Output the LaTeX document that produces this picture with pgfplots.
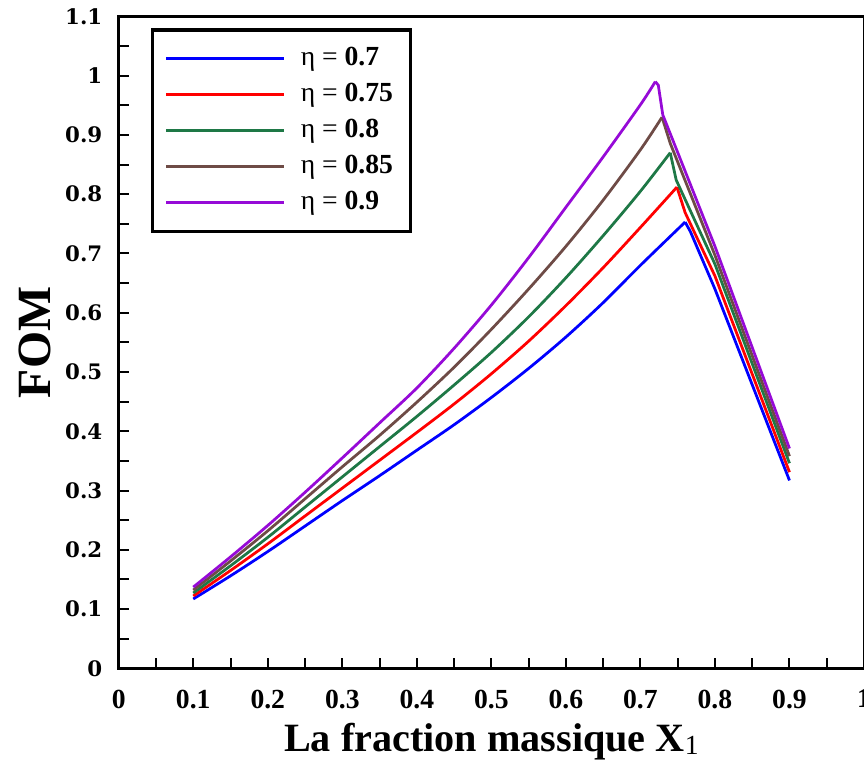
\documentclass[border={4pt 0pt 0pt 0pt}]{standalone}
\usepackage{fontspec}
\setmainfont{Liberation Serif}
\newfontfamily\dvs{DejaVu Serif}
\usepackage{pgfplots}
\pgfplotsset{compat=1.18}

\definecolor{cblue}{RGB}{0,0,255}
\definecolor{cred}{RGB}{255,0,0}
\definecolor{cgreen}{RGB}{30,120,70}
\definecolor{cbrown}{RGB}{110,75,70}
\definecolor{cpurple}{RGB}{150,10,215}

\begin{document}
\begin{tikzpicture}[trim axis right]
\begin{axis}[
  scale only axis,
  width=296.8pt, height=259.6pt,
  xmin=0, xmax=1, ymin=0, ymax=1.1,
  xtick={0,0.1,0.2,0.3,0.4,0.5,0.6,0.7,0.8,0.9,1},
  xticklabels={0,0.1,0.2,0.3,0.4,0.5,0.6,0.7,0.8,0.9,1},
  ytick={0,0.1,0.2,0.3,0.4,0.5,0.6,0.7,0.8,0.9,1,1.1},
  yticklabels={0,0.1,0.2,0.3,0.4,0.5,0.6,0.7,0.8,0.9,1,1.1},
  minor xtick={0.05,0.15,0.25,0.35,0.45,0.55,0.65,0.75,0.85,0.95},
  minor ytick={0.05,0.15,0.25,0.35,0.45,0.55,0.65,0.75,0.85,0.95,1.05},
  tick align=inside,
  xtick pos=left, ytick pos=left,
  major tick length=4pt, minor tick length=4pt,
  every tick/.style={black, line width=0.8pt},
  axis line style={line width=1pt},
  xticklabel style={font=\fontsize{11}{12}\selectfont\bfseries, yshift=-5pt},
  yticklabel style={font=\dvs\fontsize{8.5}{10}\selectfont\bfseries, xshift=-3pt},
  xlabel={La fraction massique X\raisebox{-0.15ex}{\mdseries\fontsize{11}{11}\selectfont 1}},
  ylabel={FOM},
  xlabel style={font=\fontsize{16}{19}\selectfont\bfseries, yshift=1pt},
  ylabel style={font=\fontsize{19}{22}\selectfont\bfseries, yshift=-1pt},
  legend cell align=left,
  legend image code/.code={\draw[#1] (0pt,0pt) -- (47pt,0pt);},
  legend style={at={(0.0431,0.9815)}, anchor=north west, draw=black,
    line width=1.2pt, font=\fontsize{11}{13}\selectfont,
    inner xsep=5pt, inner ysep=5pt, row sep=1.5pt,
    /tikz/every odd column/.append style={column sep=4pt}},
]
% eta = 0.7
\addplot[color=cblue, line width=1.1pt, smooth, tension=0.5] coordinates {
  (0.10,0.117) (0.15,0.156) (0.20,0.197) (0.25,0.240) (0.30,0.283)
  (0.35,0.325) (0.40,0.368) (0.45,0.411) (0.50,0.457) (0.55,0.506)
  (0.60,0.559) (0.65,0.617) (0.70,0.680) (0.76,0.753)
};
\addlegendentry{η = \textbf{0.7}}
\addplot[color=cblue, line width=1.1pt, forget plot] coordinates {
  (0.76,0.753) (0.767,0.737) (0.80,0.640) (0.90,0.317)
};
% eta = 0.75
\addplot[color=cred, line width=1.1pt, smooth, tension=0.5] coordinates {
  (0.10,0.122) (0.15,0.165) (0.20,0.210) (0.25,0.257) (0.30,0.304)
  (0.35,0.351) (0.40,0.398) (0.45,0.446) (0.50,0.497) (0.55,0.552)
  (0.60,0.612) (0.65,0.676) (0.70,0.744) (0.749,0.812)
};
\addlegendentry{η = \textbf{0.75}}
\addplot[color=cred, line width=1.1pt, forget plot] coordinates {
  (0.749,0.812) (0.760,0.769) (0.80,0.662) (0.90,0.331)
};
% eta = 0.8
\addplot[color=cgreen, line width=1.1pt, smooth, tension=0.5] coordinates {
  (0.10,0.127) (0.15,0.173) (0.20,0.221) (0.25,0.272) (0.30,0.323)
  (0.35,0.374) (0.40,0.425) (0.45,0.478) (0.50,0.533) (0.55,0.593)
  (0.60,0.659) (0.65,0.730) (0.70,0.805) (0.740,0.870)
};
\addlegendentry{η = \textbf{0.8}}
\addplot[color=cgreen, line width=1.1pt, forget plot] coordinates {
  (0.740,0.870) (0.748,0.824) (0.80,0.682) (0.90,0.346)
};
% eta = 0.85
\addplot[color=cbrown, line width=1.1pt, smooth, tension=0.5] coordinates {
  (0.10,0.132) (0.15,0.181) (0.20,0.232) (0.25,0.286) (0.30,0.340)
  (0.35,0.393) (0.40,0.449) (0.45,0.508) (0.50,0.572) (0.55,0.640)
  (0.60,0.712) (0.65,0.790) (0.70,0.875) (0.729,0.930)
};
\addlegendentry{η = \textbf{0.85}}
\addplot[color=cbrown, line width=1.1pt, forget plot] coordinates {
  (0.729,0.930) (0.740,0.886) (0.80,0.697) (0.90,0.358)
};
% eta = 0.9
\addplot[color=cpurple, line width=1.1pt, smooth, tension=0.5] coordinates {
  (0.10,0.137) (0.15,0.188) (0.20,0.241) (0.25,0.297) (0.30,0.355)
  (0.35,0.414) (0.40,0.473) (0.45,0.540) (0.50,0.613) (0.55,0.693)
  (0.60,0.778) (0.65,0.863) (0.70,0.951) (0.720,0.990)
};
\addlegendentry{η = \textbf{0.9}}
\addplot[color=cpurple, line width=1.1pt, forget plot] coordinates {
  (0.720,0.990) (0.724,0.984) (0.730,0.934) (0.80,0.712) (0.90,0.371)
};
\end{axis}
\end{tikzpicture}
\end{document}
